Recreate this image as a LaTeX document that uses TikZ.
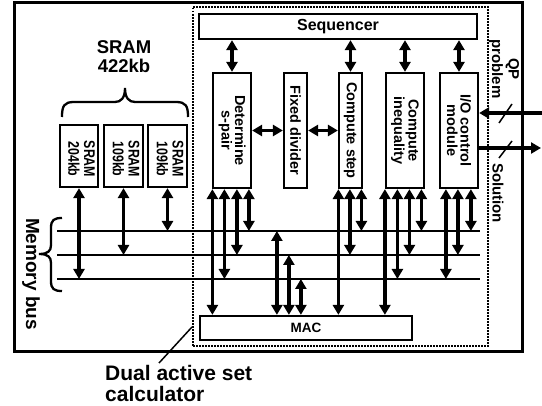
\documentclass[tikz,border=0pt]{standalone}
\usepackage{fontspec}
\setmainfont{Liberation Sans}
\usetikzlibrary{arrows.meta,calc}
\begin{document}
\begin{tikzpicture}[x=1pt,y=-1pt,
  tri/.tip={Triangle[width=11pt,length=10pt]},
  box/.style={draw,line width=2.2pt,inner sep=0pt},
  txt/.style={font=\bfseries\fontsize{14.5}{13.5}\selectfont,align=center,inner sep=0pt},
  rtxt/.style={txt,rotate=-90},
  dar/.style={line width=3.2pt,tri-tri},
  sar/.style={line width=3.2pt,-tri},
  bus/.style={line width=2.1pt},
  brc/.style={line width=2.3pt},
  thin/.style={line width=1.5pt}
]
\useasboundingbox (0,0) rectangle (542,406);
% outer and dotted frames
\node[box,line width=3pt,minimum width=508pt,minimum height=349pt] (outer) at (268,177) {};
\node[draw,line width=2pt,dash pattern=on 1.5pt off 1.5pt,inner sep=0pt,minimum width=295pt,minimum height=339pt] (dasc) at (340.5,176.5) {};
% boxes
\node[box,minimum width=278pt,minimum height=25pt] (seq) at (338,26.5) {};
\node[txt,font=\bfseries\fontsize{16}{16}\selectfont] at (seq) {Sequencer};
\node[box,minimum width=38pt,minimum height=115pt] (det) at (232,130.5) {};
\node[rtxt] at (det) {Determine\\s-pair};
\node[box,minimum width=23pt,minimum height=115pt] (fix) at (295.5,130.5) {};
\node[rtxt] at (fix) {Fixed divider};
\node[box,minimum width=23pt,minimum height=115pt] (cs) at (350.5,130.5) {};
\node[rtxt] at (cs) {Compute step};
\node[box,minimum width=38pt,minimum height=115pt] (ci) at (405,130.5) {};
\node[rtxt] at (ci) {Compute\\inequality};
\node[box,minimum width=38pt,minimum height=115pt] (io) at (459,130.5) {};
\node[rtxt] at (io) {I/O control\\module};
\node[box,minimum width=212pt,minimum height=24pt] (mac) at (306,328) {};
\node[txt,font=\bfseries\fontsize{13.5}{13.5}\selectfont] at (mac) {MAC};
% SRAM boxes
\node[box,minimum width=38pt,minimum height=62pt] (s1) at (79,156) {};
\node[box,minimum width=39pt,minimum height=62pt] (s2) at (123.5,156) {};
\node[box,minimum width=39pt,minimum height=62pt] (s3) at (167.5,156) {};
\foreach \s/\t in {s1/204kb,s2/109kb,s3/109kb}{
  \node[rotate=-90,inner sep=0pt,font=\bfseries\fontsize{15.5}{14.5}\selectfont] at ([xshift=0.5pt,yshift=-3pt]\s) {\scalebox{0.8}[1]{\begin{tabular}{@{}c@{}}SRAM\\\t\end{tabular}}};
}
\node[txt,font=\bfseries\fontsize{18.5}{19}\selectfont] (sramlbl) at (124,57) {SRAM\\422kb};
% braces
\draw[brc] (62,117) .. controls (62,106) and (64,102) .. (74,102) -- (115,102)
  .. controls (121,102) and (125,98) .. (125,88) .. controls (125,98) and (129,102) .. (135,102)
  -- (176,102) .. controls (186,102) and (188,106) .. (188,117);
\draw[brc] (62,218) .. controls (54,218) and (51,220) .. (51,228) -- (51,245)
  .. controls (51,251) and (48,254) .. (39,254) .. controls (48,254) and (51,257) .. (51,263)
  -- (51,281) .. controls (51,289) and (54,291) .. (62,291);
\node[txt,rotate=-90,font=\bfseries\fontsize{19}{19}\selectfont] (memlbl) at (31,274) {Memory bus};
% buses
\coordinate (busA) at (57,231); \coordinate (busAr) at (480,231);
\coordinate (busB) at (57,255); \coordinate (busBr) at (480,255);
\coordinate (busC) at (57,279); \coordinate (busCr) at (480,279);
\draw[bus] (busA) -- (busAr);
\draw[bus] (busB) -- (busBr);
\draw[bus] (busC) -- (busCr);
% sequencer arrows
\foreach \n in {det,cs,ci,io}{ \draw[dar] (seq.south -| \n.north) -- (\n.north); }
% horizontal
\draw[dar] (det.east) -- (fix.west);
\draw[dar] (fix.east) -- (cs.west);
% down arrows from modules
\foreach \n/\dx/\tg in {det/0.5/mac.north, det/12.5/busC, det/25/busB, det/37/busA,
                        cs/0.5/mac.north, cs/12/busB, cs/23.5/busA,
                        ci/0/mac.north, ci/12.5/busC, ci/24.5/busB, ci/36.5/busA,
                        io/7/busC, io/19/busB, io/32/busA}{
  \coordinate (t) at ($(\n.south west)+(\dx,0)$);
  \draw[dar] (t) -- (t |- \tg);
}
% MAC up arrows
\foreach \dx/\tg in {78/busA, 90/busB, 102/busC}{
  \coordinate (t) at ($(mac.north west)+(\dx,0)$);
  \draw[dar] (t |- \tg) -- (t);
}
% SRAM arrows
\draw[dar] (s1.south) -- (s1.south |- busC);
\draw[dar] (s2.south) -- (s2.south |- busB);
\draw[dar] (s3.south) -- (s3.south |- busA);
% I/O
\coordinate (qp) at (542,113);
\coordinate (so) at (541,148);
\draw[sar] (qp) -- (qp -| io.east);
\draw[sar] (so -| io.east) -- (so);
\draw[thin] (499,123) -- (512,104);
\draw[thin] (499,158) -- (512,141);
\node[txt,rotate=-90,font=\bfseries\fontsize{15}{16.5}\selectfont] (qplbl) at (504,69) {QP\\problem};
\node[txt,rotate=-90,font=\bfseries\fontsize{15}{15}\selectfont] (sollbl) at (498,193) {Solution};
% label
\node[anchor=north west,align=left,inner sep=0pt,font=\bfseries\fontsize{21}{21}\selectfont] (dual) at (105,365) {Dual active set\\calculator};
\coordinate (lt) at (dasc.west |- 0,327);
\draw[thin] (lt) -- ($(dual.north west)+(54,-2)$);
\end{tikzpicture}
\end{document}
